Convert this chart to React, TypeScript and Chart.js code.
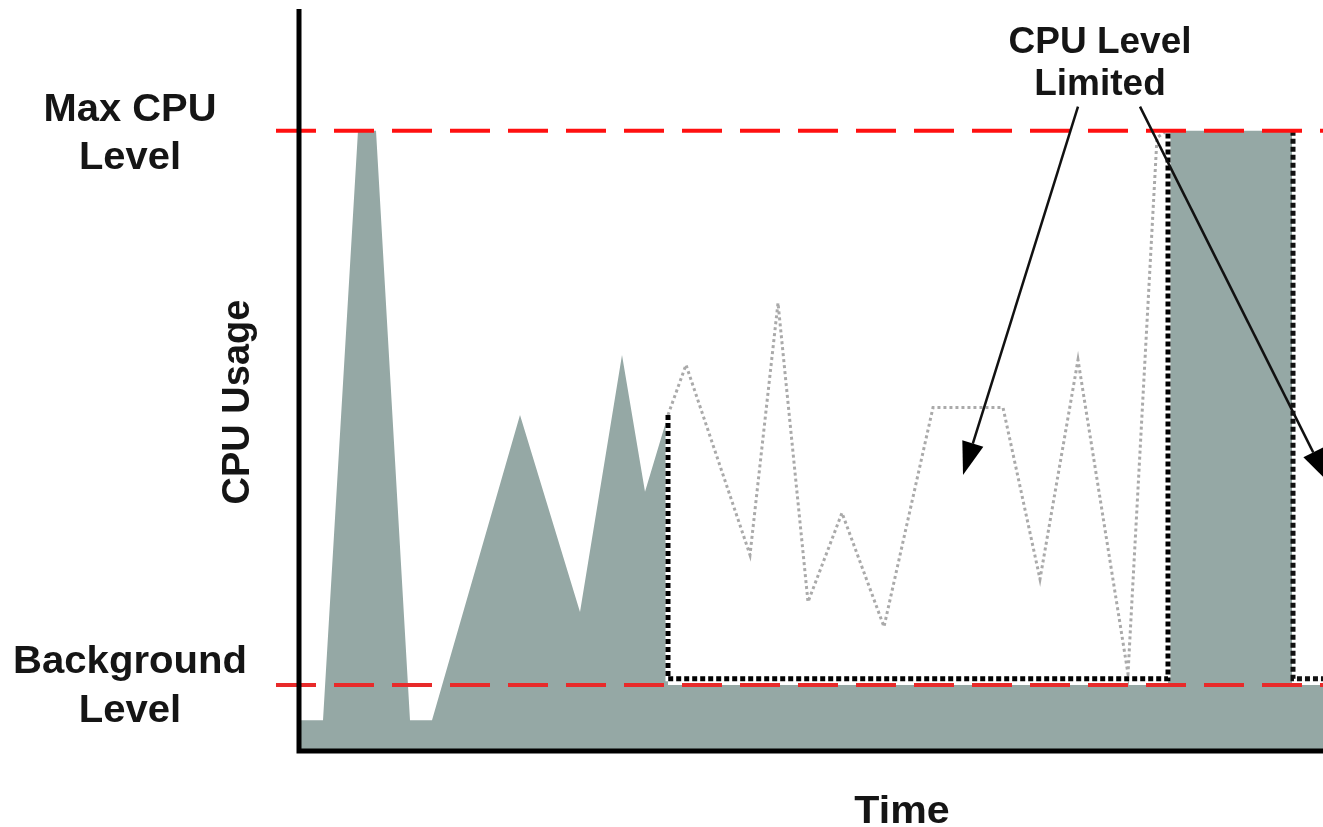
import React, { useEffect, useRef } from "react";
import { Chart, registerables } from "chart.js";

Chart.register(...registerables);

// Time axis runs 0..1023 (arbitrary time units), CPU usage 0..119.5 (percent of max level = 100)
const usageX = [0, 23, 58, 76, 110, 132, 220, 280, 322, 345, 368, 368, 868, 868, 992, 992, 1023];
const usageY = [4.8, 4.8, 100, 100, 4.8, 4.8, 54.1, 22.3, 63.8, 41.7, 54.1, 10.5, 10.5, 100, 100, 10.5, 10.5];

// Demand that would have happened without limiting (dotted grey)
const demandX = [368, 386, 450, 478, 508, 542, 584, 633, 703, 740, 778, 828, 857, 867];
const demandY = [54.1, 62.2, 31.5, 72.2, 23.9, 38.3, 19.9, 55.3, 55.3, 27.6, 63.0, 12.3, 98.9, 100];

// Limited windows (black dotted outline)
const limitAX = [368, 368, 868, 868];
const limitAY = [54.1, 11.5, 11.5, 100];
const limitBX = [993, 993, 1023];
const limitBY = [100, 11.5, 11.5];

const MAX_LEVEL = 100;
const BG_LEVEL = 10.5;
const levelLineX = [-24, 1023];

const xMin = 0;
const xMax = 1023;
const yMin = 0;
const yMax = 119.5;

// Annotation arrows (data units): [x, y]
const arrowFrom = [
  [778, 103.9],
  [840, 103.9],
];
const arrowTo = [
  [663, 44.4],
  [1028, 43.3],
];

const labelMax = ["Max CPU", "Level"];
const labelBg = ["Background", "Level"];
const labelLimited = ["CPU Level", "Limited"];
const labelX = "Time";
const labelY = "CPU Usage";

const zip = (xs: number[], ys: number[]) => xs.map((x, i) => ({ x, y: ys[i] }));

export default function App() {
  const ref = useRef<HTMLCanvasElement | null>(null);

  useEffect(() => {
    if (!ref.current) return;
    const FONT = 'bold 38px "Liberation Sans", Arial, sans-serif';

    const wideText = (ctx: CanvasRenderingContext2D, t: string, x: number, y: number, sx: number) => {
      ctx.save();
      ctx.translate(x, y);
      ctx.scale(sx, 1);
      ctx.fillText(t, 0, 0);
      ctx.restore();
    };

    const decor = {
      id: "decor",
      afterDatasetsDraw(chart: any) {
        const ctx = chart.ctx as CanvasRenderingContext2D;
        const { left, bottom, top, right } = chart.chartArea;
        const xs = chart.scales.x;
        const ys = chart.scales.y;
        ctx.save();
        // axes
        ctx.strokeStyle = "#000";
        ctx.lineWidth = 5;
        ctx.lineCap = "butt";
        ctx.beginPath();
        ctx.moveTo(left - 1, top - 1);
        ctx.lineTo(left - 1, bottom + 3.5);
        ctx.moveTo(left - 3.5, bottom + 1);
        ctx.lineTo(right, bottom + 1);
        ctx.stroke();

        // arrows
        ctx.fillStyle = "#000";
        ctx.strokeStyle = "#111";
        ctx.lineWidth = 2.5;
        for (let i = 0; i < arrowFrom.length; i++) {
          const x1 = xs.getPixelForValue(arrowFrom[i][0]);
          const y1 = ys.getPixelForValue(arrowFrom[i][1]);
          const x2 = xs.getPixelForValue(arrowTo[i][0]);
          const y2 = ys.getPixelForValue(arrowTo[i][1]);
          const a = Math.atan2(y2 - y1, x2 - x1);
          const len = 33;
          const hw = 11;
          const bx = x2 - len * Math.cos(a);
          const by = y2 - len * Math.sin(a);
          ctx.beginPath();
          ctx.moveTo(x1, y1);
          ctx.lineTo(bx, by);
          ctx.stroke();
          ctx.beginPath();
          ctx.moveTo(x2, y2);
          ctx.lineTo(bx + hw * Math.sin(a), by - hw * Math.cos(a));
          ctx.lineTo(bx - hw * Math.sin(a), by + hw * Math.cos(a));
          ctx.closePath();
          ctx.fill();
        }

        // texts
        ctx.fillStyle = "#151515";
        ctx.font = FONT;
        ctx.textAlign = "center";
        ctx.textBaseline = "alphabetic";
        const yMaxPx = ys.getPixelForValue(MAX_LEVEL);
        const yBgPx = ys.getPixelForValue(BG_LEVEL);
        wideText(ctx, labelMax[0], 130, yMaxPx - 10, 1.05);
        wideText(ctx, labelMax[1], 130, yMaxPx + 38, 1.05);
        wideText(ctx, labelBg[0], 130, yBgPx - 12, 1.055);
        wideText(ctx, labelBg[1], 130, yBgPx + 37, 1.055);
        ctx.font = 'bold 37px "Liberation Sans", Arial, sans-serif';
        ctx.fillText(labelLimited[0], 1100, 53);
        ctx.fillText(labelLimited[1], 1100, 95);
        ctx.font = 'bold 39px "Liberation Sans", Arial, sans-serif';
        wideText(ctx, labelX, 902, 823, 1.055);
        ctx.save();
        ctx.translate(249, 402);
        ctx.rotate(-Math.PI / 2);
        ctx.font = 'bold 38px "Liberation Sans", Arial, sans-serif';
        ctx.fillText(labelY, 0, 0);
        ctx.restore();
        ctx.restore();
      },
    };

    const chart = new Chart(ref.current, {
      type: "line",
      data: {
        datasets: [
          {
            label: "Max level",
            data: zip(levelLineX, [MAX_LEVEL, MAX_LEVEL]),
            borderColor: "#ff1010",
            borderWidth: 4,
            borderDash: [40, 18],
            fill: false,
            clip: false,
            order: 1,
          },
          {
            label: "Background level",
            data: zip(levelLineX, [BG_LEVEL, BG_LEVEL]),
            borderColor: "#e82a2a",
            borderWidth: 4,
            borderDash: [40, 18],
            fill: false,
            clip: false,
            order: 1,
          },
          {
            label: "Limited window A",
            data: zip(limitAX, limitAY),
            borderColor: "#000",
            borderWidth: 5,
            borderDash: [5, 3],
            fill: false,
            order: 2,
          },
          {
            label: "Limited window A underlay",
            data: zip(limitAX, limitAY),
            borderColor: "#fff",
            borderWidth: 5,
            fill: false,
            order: 2.5,
          },
          {
            label: "Limited window B",
            data: zip(limitBX, limitBY),
            borderColor: "#111",
            borderWidth: 5,
            borderDash: [5, 3],
            fill: false,
            order: 2,
          },
          {
            label: "Demand",
            data: zip(demandX, demandY),
            borderColor: "#aaaaaa",
            borderWidth: 3,
            borderDash: [3, 3],
            fill: false,
            order: 3,
          },
          {
            label: "CPU usage",
            data: zip(usageX, usageY),
            borderWidth: 0,
            borderColor: "rgba(0,0,0,0)",
            backgroundColor: "#95a8a5",
            fill: "origin",
            order: 4,
          },
        ],
      },
      options: {
        animation: false,
        responsive: false,
        devicePixelRatio: 1,
        layout: { padding: { left: 300, top: 10, right: 0, bottom: 77 } },
        elements: { point: { radius: 0 }, line: { tension: 0 } },
        scales: {
          x: { type: "linear", min: xMin, max: xMax, display: false },
          y: { type: "linear", min: yMin, max: yMax, display: false },
        },
        plugins: { legend: { display: false }, tooltip: { enabled: false } },
      },
      plugins: [decor],
    } as any);

    return () => chart.destroy();
  }, []);

  return (
    <div style={{ position: "fixed", left: 0, top: 0, width: 1323, height: 827, background: "#fff" }}>
      <canvas ref={ref} width={1323} height={827} style={{ width: 1323, height: 827, display: "block" }} />
    </div>
  );
}
